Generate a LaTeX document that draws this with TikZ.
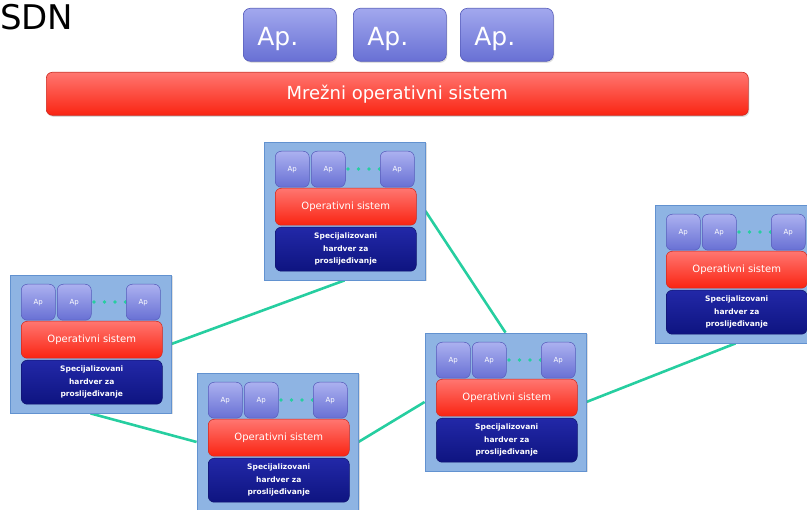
\documentclass[tikz,border=0pt]{standalone}
\usepackage{fontspec}
\setmainfont{DejaVu Sans}
\usetikzlibrary{backgrounds,shadows}

\definecolor{linkteal}{RGB}{38,206,160}
\definecolor{boxblue}{RGB}{142,180,227}
\definecolor{boxedge}{RGB}{98,146,208}
\definecolor{apTop}{RGB}{162,168,238}
\definecolor{apBot}{RGB}{104,112,212}
\definecolor{apEdge}{RGB}{86,92,186}
\definecolor{osTop}{RGB}{255,118,112}
\definecolor{osBot}{RGB}{250,36,18}
\definecolor{osEdge}{RGB}{205,40,30}
\definecolor{hwTop}{RGB}{34,40,168}
\definecolor{hwBot}{RGB}{14,20,128}
\definecolor{hwEdge}{RGB}{16,20,110}

\tikzset{
  swbox/.style={draw=boxedge, line width=0.8pt, fill=boxblue, inner sep=0pt,
    minimum width=161pt, minimum height=138pt,
    drop shadow={shadow xshift=1.5pt, shadow yshift=-1.5pt, opacity=0.25}},
  apsmall/.style={draw=apEdge, line width=0.5pt, rounded corners=6pt,
    top color=apTop!90!white, bottom color=apBot, inner sep=0pt,
    minimum width=34pt, minimum height=36pt, anchor=north west,
    text=white, font=\fontsize{7}{8}\selectfont},
  osbar/.style={draw=osEdge, line width=0.5pt, rounded corners=6pt,
    top color=osTop, bottom color=osBot, inner sep=0pt,
    minimum width=141pt, minimum height=37pt, anchor=north west,
    text=white, font=\fontsize{10}{12}\selectfont},
  hwbar/.style={draw=hwEdge, line width=0.5pt, rounded corners=6pt,
    top color=hwTop, bottom color=hwBot, inner sep=0pt,
    minimum width=141pt, minimum height=44pt, anchor=north west,
    text=white, align=center, font=\fontsize{7.5}{12.5}\selectfont\bfseries},
  apbig/.style={draw=apEdge, line width=0.6pt, rounded corners=7pt,
    top color=apTop, bottom color=apBot, inner sep=0pt,
    minimum width=93pt, minimum height=53pt, anchor=north west,
    drop shadow={shadow xshift=1pt, shadow yshift=-1.5pt, opacity=0.25}},
  nosbar/.style={draw=osEdge, line width=0.6pt, rounded corners=6pt,
    top color=osTop, bottom color=osBot, inner sep=0pt,
    minimum width=702pt, minimum height=43pt, anchor=north west,
    drop shadow={shadow xshift=1pt, shadow yshift=-1.5pt, opacity=0.3}},
  link/.style={draw=linkteal, line width=2.6pt},
  appdot/.style={fill=linkteal, circle, inner sep=0pt, minimum size=3.6pt},
}

% one forwarding element: apps, its operating system, forwarding hardware
\newcommand{\fwdelement}[3]{%
  \node[swbox] (#1) at ({#2+80.5},{#3+69}) {};
  \foreach \k in {0,1,2,3}
    \node[appdot] at ({#2+84+\k*10.5},{#3+27}) {};
  \node[apsmall] (#1-a1) at ({#2+11},{#3+9}) {Ap};
  \node[apsmall] (#1-a2) at ({#2+47},{#3+9}) {Ap};
  \node[apsmall] (#1-a3) at ({#2+116},{#3+9}) {Ap};
  \node[osbar] (#1-os) at ({#2+11},{#3+46}) {Operativni sistem};
  \node[hwbar] (#1-hw) at ({#2+11},{#3+85})
    {Specijalizovani\\hardver za\\proslijeđivanje};
}

\begin{document}
\begin{tikzpicture}[x=1pt,y=-1pt]
  \useasboundingbox (0,0) rectangle (807,510);
  \clip (0,0) rectangle (807,510);

  \node[anchor=base west, inner sep=0pt, font=\fontsize{34}{38}\selectfont]
    (title) at (0,30) {SDN};

  % applications on top of the network operating system
  \node[apbig] (app1) at (243,8) {};
  \node[apbig] (app2) at (353,8) {};
  \node[apbig] (app3) at (460,8) {};
  \foreach \a in {app1,app2,app3}
    \node[text=white, font=\fontsize{25}{27}\selectfont]
      at ([xshift=-12pt,yshift=-4pt]\a.center) {Ap.};

  \node[nosbar] (nos) at (46,72) {};
  \node[text=white, font=\fontsize{18}{20}\selectfont] at (nos.center)
    {Mrežni operativni sistem};

  % forwarding elements
  \fwdelement{s1}{10}{275}
  \fwdelement{s2}{197}{373}
  \fwdelement{s3}{264}{142}
  \fwdelement{s4}{425}{333}
  \fwdelement{s5}{655}{205}

  % links between forwarding elements
  \begin{scope}[on background layer]
    \draw[link] (s1.east) -- (s3.south);
    \draw[link] (s3.east) -- (s4.north);
    \draw[link] (s1.south) -- (s2.west);
    \draw[link] (s2.east) -- (s4.west);
    \draw[link] (s4.east) -- (s5.south);
  \end{scope}
\end{tikzpicture}
\end{document}
